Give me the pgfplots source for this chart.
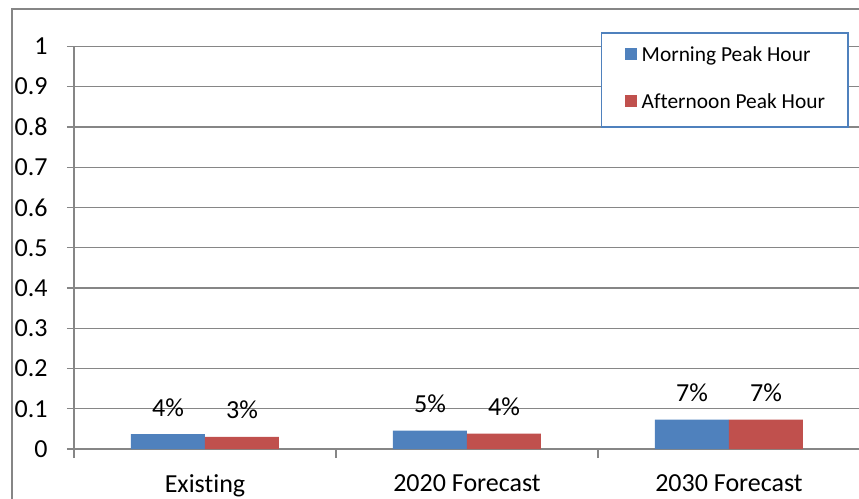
\documentclass[border=0pt]{standalone}
\usepackage{pgfplots}
\pgfplotsset{compat=1.18}
\usepackage{fontspec}
\setmainfont{Carlito}[Ligatures=NoCommon]
\definecolor{mblue}{HTML}{4F81BD}
\definecolor{mred}{HTML}{C0504D}
\definecolor{gridgray}{HTML}{868686}
\begin{document}
\begin{tikzpicture}
\path[use as bounding box] (0,0) rectangle (429.5pt,249.5pt);
\begin{scope}
\clip (0,0) rectangle (429.5pt,249.5pt);
\draw[gridgray, line width=0.7pt] (6pt,-10pt) rectangle (440pt,245pt);
\begin{axis}[
  at={(37pt,25pt)}, anchor=south west,
  scale only axis, width=393pt, height=201.3pt,
  ymin=0, ymax=1, xmin=-0.5, xmax=2.5,
  enlargelimits=false,
  ytick={0,0.1,0.2,0.3,0.4,0.5,0.6,0.7,0.8,0.9,1},
  xtick={0,1,2},
  xticklabels={Existing,2020 Forecast,2030 Forecast},
  minor xtick={-0.5,0.5,1.5,2.5},
  major x tick style={draw=none},
  axis x line*=bottom, axis y line*=left,
  axis line style={gridgray, line width=0.6pt},
  tick style={gridgray, line width=0.6pt},
  tick align=outside,
  major tick length=3.5pt, minor tick length=4.5pt,
  ymajorgrids, grid style={gridgray, line width=0.6pt},
  /pgf/number format/assume math mode=true,
  tick label style={font=\fontsize{13}{15}\selectfont},
  yticklabel style={anchor=east, inner sep=0pt, xshift=-9.5pt},
  xticklabel style={anchor=north, inner sep=0pt, yshift=-9pt},
  ybar=0pt, bar width=37pt,
  nodes near coords, point meta=explicit symbolic,
  every node near coord/.append style={font=\fontsize{13}{15}\selectfont, anchor=base, inner sep=0pt, yshift=9pt},
  legend cell align=left,
  legend image code/.code={\fill[#1, draw=none] (0pt,-1.5pt) rectangle (6pt,4.5pt);},
  legend style={at={(axis description cs:0.6705,1.035)}, anchor=north west,
    draw=mblue, line width=0.7pt, inner xsep=11.5pt, inner ysep=7pt,
    row sep=14pt, column sep=2.5pt,
    font=\fontsize{10.7}{12}\selectfont,
    nodes={inner sep=0pt, text height=7pt, text depth=2.5pt}},
]
\addplot[fill=mblue, draw=none] coordinates {(0,0.037) [4\%] (1,0.0455) [5\%] (2,0.0728) [7\%]};
\addplot[fill=mred, draw=none] coordinates {(0,0.030) [3\%] (1,0.038) [4\%] (2,0.0728) [7\%]};
\legend{Morning Peak Hour, Afternoon Peak Hour}
\end{axis}
\end{scope}
\end{tikzpicture}
\end{document}
